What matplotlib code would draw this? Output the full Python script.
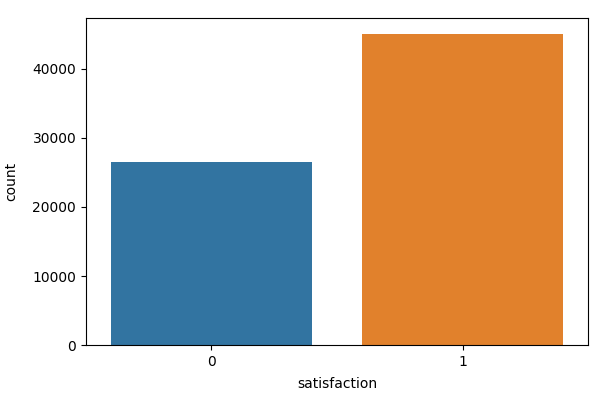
import matplotlib
matplotlib.use('Agg')
import matplotlib.pyplot as plt

# значения
categories = ['0', '1']
counts = [26550, 45080]
colors = ['#3274a1', '#e1812c']

fig = plt.figure(figsize=(5.97, 4.05), dpi=100)
ax = fig.add_axes([0.144, 0.148, 0.841, 0.807])

x = range(len(categories))
ax.bar(x, counts, width=0.8, color=colors)
ax.set_xticks(list(x))
ax.set_xticklabels(categories)
ax.set_xlim(-0.5, 1.5)
ax.set_ylim(0, max(counts) * 1.05)
ax.set_xlabel('satisfaction', labelpad=6)
ax.set_ylabel('count', labelpad=10)

fig.savefig('out.png', dpi=100)
